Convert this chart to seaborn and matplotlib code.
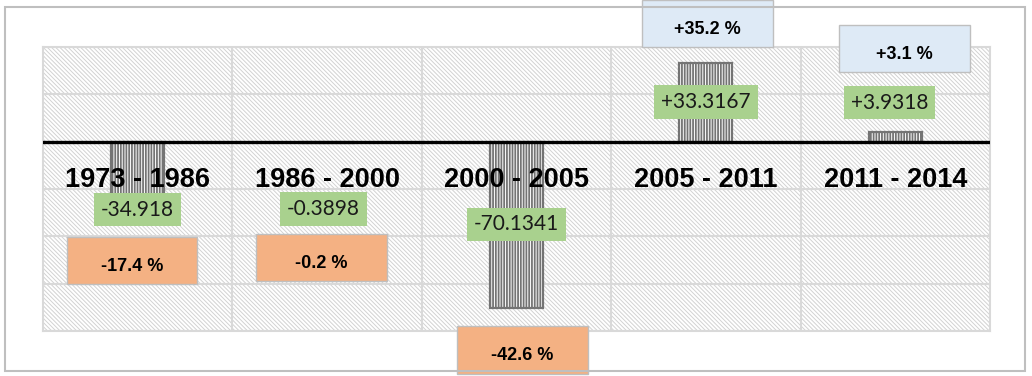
import matplotlib
matplotlib.use("Agg")
import matplotlib.pyplot as plt
from matplotlib.patches import Rectangle
import pandas as pd
import seaborn as sns

periods = ["1973 - 1986", "1986 - 2000", "2000 - 2005", "2005 - 2011", "2011 - 2014"]
change = [-34.918, -0.3898, -70.1341, 33.3167, 3.9318]
change_text = ["-34.918", "-0.3898", "-70.1341", "+33.3167", "+3.9318"]
pct_change = [-17.4, -0.2, -42.6, 35.2, 3.1]

# label placement (moved by hand in the original chart)
value_label_y = [-28.7, -28.3, -35.0, 16.9, 16.5]
value_label_dx = [0.0, -0.02, 0.0, 0.0, -0.03]
pct_label_y = [-50.3, -49.0, -88.0, 50.0, 39.5]
pct_label_dx = [-0.03, -0.03, 0.03, 0.01, 0.05]

df = pd.DataFrame({"period": periods, "change": change})

sns.set_style("white")
plt.rcParams["font.family"] = ["Liberation Sans", "DejaVu Sans"]
plt.rcParams["hatch.linewidth"] = 0.7

fig = plt.figure(figsize=(10.32, 3.76), dpi=100)
ax = fig.add_axes([0.0417, 0.1197, 0.9176, 0.7553])

# hatched plot background
bg = Rectangle((0, 0), 1, 1, transform=ax.transAxes, facecolor="white",
               edgecolor="#D2D2D2", hatch="\\" * 8, linewidth=0, zorder=0.1)
ax.add_patch(bg)

plt.rcParams["hatch.linewidth"] = 1.3
sns.barplot(data=df, x="period", y="change", color="white", width=0.28,
            edgecolor="#747474", linewidth=1.6, saturation=1, ax=ax, zorder=2)
for bar in ax.patches:
    if bar is not bg:
        bar.set_hatch("||||||")

ax.set_xlim(-0.5, 4.5)
ax.set_ylim(-80, 40)
ax.set_yticks(range(-80, 41, 20))
ax.set_xticks([0.5, 1.5, 2.5, 3.5], minor=True)
ax.set_axisbelow(True)
ax.grid(False)
ax.yaxis.grid(True, which="major", color="#D9D9D9", linewidth=1.5, zorder=0.5)
ax.xaxis.grid(True, which="minor", color="#D9D9D9", linewidth=1.5, zorder=0.5)
ax.tick_params(which="both", length=0, labelbottom=False, labelleft=False)
ax.set_xlabel("")
ax.set_ylabel("")
for s in ax.spines.values():
    s.set_color("#D9D9D9")
    s.set_linewidth(1.5)

ax.axhline(0, color="black", linewidth=2.4, zorder=3)

for i, name in enumerate(periods):
    ax.text(i, -16, name, ha="center", va="center", fontsize=19.5,
            fontweight="bold", color="black", zorder=4)

for i, txt in enumerate(change_text):
    ax.text(i + value_label_dx[i], value_label_y[i], txt, ha="center", va="center",
            fontsize=15, family=["Lato", "DejaVu Sans"], color="#1A1A1A", zorder=5,
            bbox=dict(boxstyle="square,pad=0.33", facecolor="#A9D18E", edgecolor="none"))

for i, p in enumerate(pct_change):
    cx = i + pct_label_dx[i]
    cy = pct_label_y[i]
    fc = "#F4B183" if p < 0 else "#DEEAF6"
    ax.add_patch(Rectangle((cx - 0.345, cy - 10), 0.69, 20, facecolor=fc,
                           edgecolor="#BFBFBF", linewidth=1.0, zorder=5, clip_on=False))
    ax.text(cx, cy - 2.5, f"{p:+.1f} %", ha="center", va="center", fontsize=13,
            fontweight="bold", color="black", zorder=6, clip_on=False)

fig.add_artist(Rectangle((5 / 1032, 1 - 371 / 376), 1020 / 1032, 364 / 376,
                         transform=fig.transFigure, fill=False,
                         edgecolor="#BFBFBF", linewidth=1.5))

fig.savefig("out.png", dpi=100)
